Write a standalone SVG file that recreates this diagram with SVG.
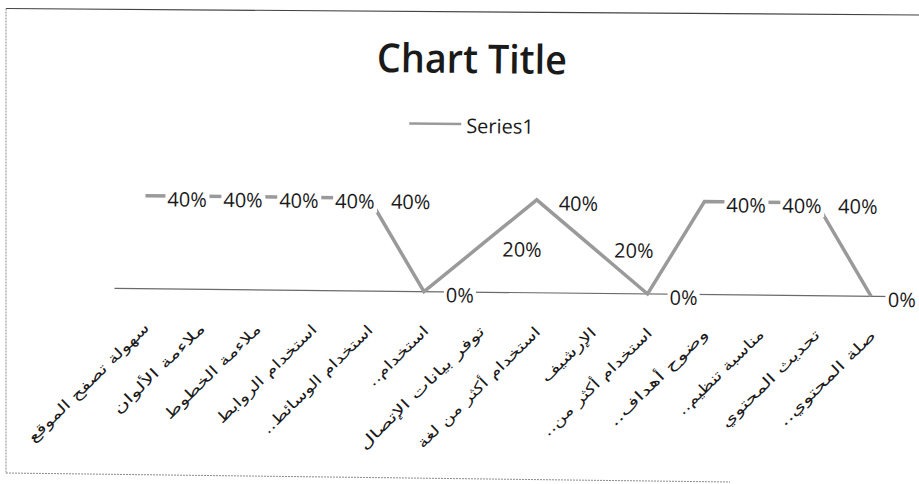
<svg xmlns="http://www.w3.org/2000/svg" width="919" height="484" viewBox="0 0 919 484">
<style>
.frame{fill:none;stroke:#444;stroke-width:1.2}
.frameL{fill:none;stroke:#8a8a8a;stroke-width:1;stroke-dasharray:2 1}
.title{font-family:"Open Sans","Liberation Sans",sans-serif;font-weight:600;font-size:40px;fill:#1a1a1a}
.leg{font-family:"Open Sans","Liberation Sans",sans-serif;font-size:20px;fill:#1a1a1a}
.dl{font-family:"Open Sans","Liberation Sans",sans-serif;font-size:20px;fill:#1a1a1a}
.bg{fill:#fff}
.cat{font-family:"DejaVu Sans",sans-serif;font-size:14.5px;fill:#1a1a1a}
.series{fill:none;stroke:#9a9a9a;stroke-width:3.5;stroke-linejoin:miter}
.axis{fill:none;stroke:#6a6a6a;stroke-width:1.2}
</style>
<rect width="919" height="484" fill="#fff"/>
<g id="frame">
<line class="frame" x1="6" y1="8.5" x2="919" y2="15"/>
<line class="frameL" x1="6" y1="8.5" x2="6" y2="473"/>
<line class="frameL" x1="6" y1="473" x2="730" y2="482"/>
</g>
<g transform="rotate(0.6 460 242)">
<g id="title"><text class="title" x="470" y="73" text-anchor="middle" textLength="190" lengthAdjust="spacingAndGlyphs">Chart Title</text></g>
<g id="legend">
<line x1="408" y1="124" x2="460" y2="124" stroke="#9a9a9a" stroke-width="2.5"/>
<text class="leg" x="465" y="133">Series1</text>
</g>
<g id="axis"><line class="axis" x1="115" y1="292" x2="900" y2="292"/></g>
<g id="connectors">
<polyline class="series" points="145,199 200.9,199 256.8,199 312.7,199 368.6,199 424.5,292 480.4,245.5 536.3,199 592.2,245.5 648.1,292 704,199 759.9,199 815.8,199 871.7,292"/>
</g>
<g id="data-labels">
<rect class="bg" x="165" y="192.5" width="44" height="21"/>
<rect class="bg" x="220.9" y="192.5" width="44" height="21"/>
<rect class="bg" x="276.8" y="192.5" width="44" height="21"/>
<rect class="bg" x="332.7" y="192.5" width="44" height="21"/>
<rect class="bg" x="444.5" y="285.5" width="32" height="21"/>
<rect class="bg" x="668.1" y="285.5" width="32" height="21"/>
<rect class="bg" x="724" y="192.5" width="44" height="21"/>
<rect class="bg" x="779.9" y="192.5" width="44" height="21"/>
<rect class="bg" x="886" y="285.5" width="34" height="21"/>
<text class="dl" x="167" y="209.5">40%</text>
<text class="dl" x="222.9" y="209.5">40%</text>
<text class="dl" x="278.8" y="209.5">40%</text>
<text class="dl" x="334.7" y="209.5">40%</text>
<text class="dl" x="390.6" y="209.5">40%</text>
<text class="dl" x="446.5" y="302.5">0%</text>
<text class="dl" x="502.4" y="256">20%</text>
<text class="dl" x="558.3" y="209.5">40%</text>
<text class="dl" x="614.2" y="256">20%</text>
<text class="dl" x="670.1" y="302.5">0%</text>
<text class="dl" x="726" y="209.5">40%</text>
<text class="dl" x="781.9" y="209.5">40%</text>
<text class="dl" x="837.8" y="209.5">40%</text>
<text class="dl" x="888.5" y="302.5">0%</text>
</g>
<g id="category-labels">
<text class="cat" transform="translate(151,332) rotate(-45)" text-anchor="end" textLength="163" lengthAdjust="spacingAndGlyphs">سهولة تصفح الموقع&#x200F;</text>
<text class="cat" transform="translate(206.9,332) rotate(-45)" text-anchor="end" textLength="122" lengthAdjust="spacingAndGlyphs">ملاءمة الألوان&#x200F;</text>
<text class="cat" transform="translate(262.8,332) rotate(-45)" text-anchor="end" textLength="129" lengthAdjust="spacingAndGlyphs">ملاءمة الخطوط&#x200F;</text>
<text class="cat" transform="translate(318.7,332) rotate(-45)" text-anchor="end" textLength="134" lengthAdjust="spacingAndGlyphs">استخدام الروابط&#x200F;</text>
<text class="cat" transform="translate(374.6,332) rotate(-45)" text-anchor="end" textLength="148" lengthAdjust="spacingAndGlyphs">استخدام الوسائط..&#x200F;</text>
<text class="cat" transform="translate(430.5,332) rotate(-45)" text-anchor="end" textLength="79" lengthAdjust="spacingAndGlyphs">استخدام..&#x200F;</text>
<text class="cat" transform="translate(486.4,332) rotate(-45)" text-anchor="end" textLength="169" lengthAdjust="spacingAndGlyphs">توفر بيانات الإتصال&#x200F;</text>
<text class="cat" transform="translate(542.3,332) rotate(-45)" text-anchor="end" textLength="166" lengthAdjust="spacingAndGlyphs">استخدام أكثر من لغة&#x200F;</text>
<text class="cat" transform="translate(598.2,332) rotate(-45)" text-anchor="end" textLength="71" lengthAdjust="spacingAndGlyphs">الإرشيف&#x200F;</text>
<text class="cat" transform="translate(654.1,332) rotate(-45)" text-anchor="end" textLength="147" lengthAdjust="spacingAndGlyphs">استخدام أكثر من..&#x200F;</text>
<text class="cat" transform="translate(710,332) rotate(-45)" text-anchor="end" textLength="132" lengthAdjust="spacingAndGlyphs">وضوح أهداف..&#x200F;</text>
<text class="cat" transform="translate(765.9,332) rotate(-45)" text-anchor="end" textLength="115" lengthAdjust="spacingAndGlyphs">مناسبة تنظيم..&#x200F;</text>
<text class="cat" transform="translate(821.8,332) rotate(-45)" text-anchor="end" textLength="132" lengthAdjust="spacingAndGlyphs">تحديث المحتوي&#x200F;</text>
<text class="cat" transform="translate(877.7,332) rotate(-45)" text-anchor="end" textLength="129" lengthAdjust="spacingAndGlyphs">صلة المحتوي..&#x200F;</text>
</g>
</g>
</svg>
